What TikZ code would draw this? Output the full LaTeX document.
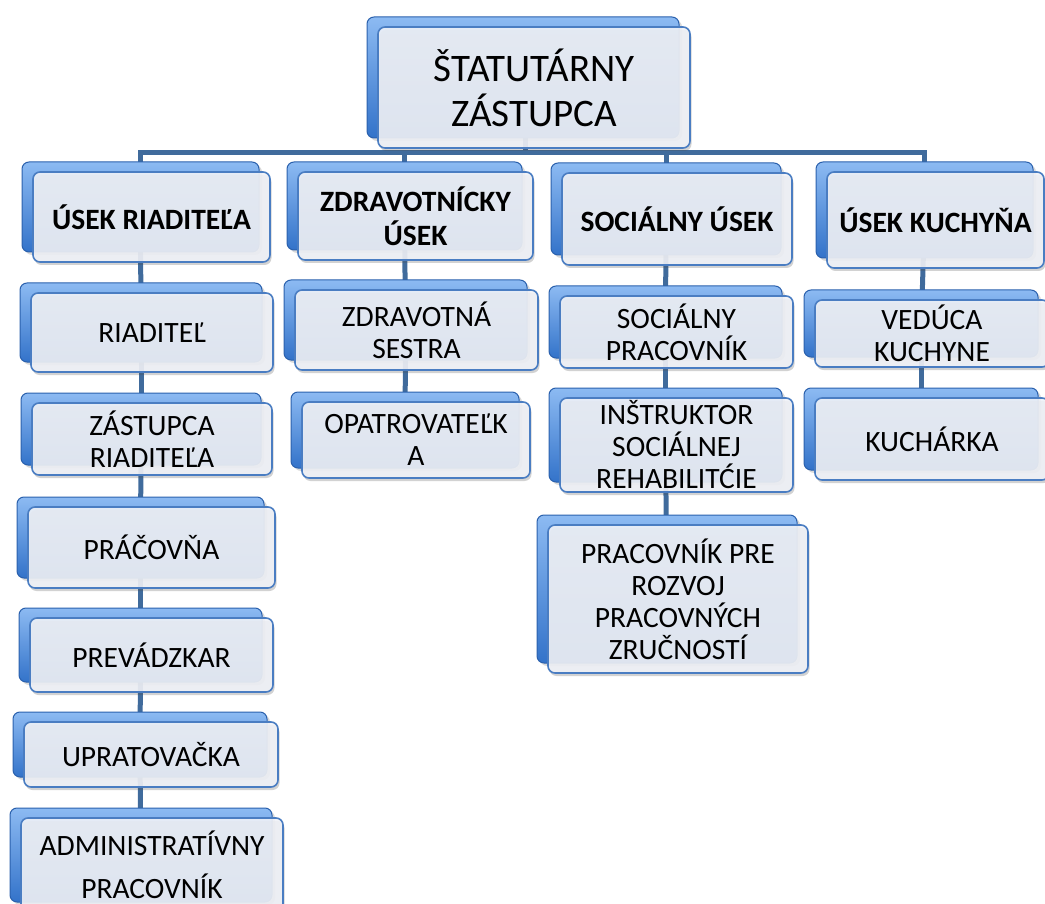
\documentclass[tikz,border=0pt]{standalone}
\usepackage{fontspec}
\setmainfont{Carlito}
\usepackage{tikz}
\usetikzlibrary{shadows}
\definecolor{linblue}{rgb}{0.25,0.42,0.61}
\definecolor{frontfill}{rgb}{0.94,0.95,0.97}
\definecolor{frontline}{rgb}{0.29,0.49,0.76}
\definecolor{backtop}{rgb}{0.55,0.73,0.95}
\definecolor{backbot}{rgb}{0.20,0.45,0.79}
\definecolor{backline}{rgb}{0.17,0.38,0.68}
\pgfdeclarelayer{bg}
\pgfsetlayers{bg,main}
\tikzstyle{orgbox}=[rectangle,rounded corners=7pt,draw=frontline,line width=1.6pt,fill=frontfill,fill opacity=0.9,text opacity=1,text=black,align=center,inner sep=0pt,font=\fontsize{29.5}{32}\selectfont,
  general shadow={shadow xshift=-8pt,shadow yshift=7pt,fill=black,opacity=0.15},
  general shadow={shadow xshift=-11pt,shadow yshift=10pt,top color=backtop,bottom color=backbot,draw=backline,line width=1pt,opacity=1},
  drop shadow={shadow xshift=1.5pt,shadow yshift=-3pt,fill=black!70,opacity=0.25}]
\tikzstyle{headbox}=[orgbox,font=\bfseries\fontsize{29.5}{34}\selectfont]
\tikzstyle{conn}=[draw=linblue,line width=5pt]

\begin{document}
\begin{tikzpicture}[line join=miter,x=1pt,y=-1pt]
\useasboundingbox (0,0) rectangle (1045,904);
\clip (0,0) rectangle (1045,904);
\node[orgbox,minimum width=312pt,minimum height=121pt,font=\fontsize{39}{45}\selectfont] (top) at (534,87.5) {ŠTATUTÁRNY\\ZÁSTUPCA};

\node[headbox,minimum width=237pt,minimum height=90pt] (uA) at (151.5,217) {ÚSEK RIADITEĽA};
\node[headbox,minimum width=235pt,minimum height=88pt] (uB) at (415.5,216) {ZDRAVOTNÍCKY\\ÚSEK};
\node[headbox,minimum width=230pt,minimum height=92pt] (uC) at (677,219) {SOCIÁLNY ÚSEK};
\node[headbox,minimum width=217pt,minimum height=96pt] (uD) at (935.5,220) {ÚSEK KUCHYŇA};

\node[orgbox,minimum width=242pt,minimum height=79pt] (riad) at (152,332.5) {RIADITEĽ};
\node[orgbox,minimum width=240pt,minimum height=72pt] (zast) at (152,439) {ZÁSTUPCA\\RIADITEĽA};
\node[orgbox,minimum width=247pt,minimum height=81pt] (prac) at (151.5,547.5) {PRÁČOVŇA};
\node[orgbox,minimum width=243pt,minimum height=74pt] (prev) at (151.5,655) {PREVÁDZKAR};
\node[orgbox,minimum width=254pt,minimum height=65pt] (uprat) at (151,754.5) {UPRATOVAČKA};
\node[orgbox,minimum width=262pt,minimum height=94pt,font=\fontsize{29.5}{43}\selectfont] (admin) at (152,865) {ADMINISTRATÍVNY\\PRACOVNÍK};

\node[orgbox,minimum width=243pt,minimum height=80pt] (zsestra) at (416.5,330) {ZDRAVOTNÁ\\SESTRA};
\node[orgbox,minimum width=228pt,minimum height=76pt] (opatr) at (416,440) {OPATROVATEĽK\\A};

\node[orgbox,minimum width=233pt,minimum height=72pt] (socprac) at (676.5,332) {SOCIÁLNY\\PRACOVNÍK};
\node[orgbox,minimum width=233pt,minimum height=94pt] (instr) at (676.5,445) {INŠTRUKTOR\\SOCIÁLNEJ\\REHABILITĆIE};
\node[orgbox,minimum width=260pt,minimum height=148pt] (rozvoj) at (678,599) {PRACOVNÍK PRE\\ROZVOJ\\PRACOVNÝCH\\ZRUČNOSTÍ};

\node[orgbox,minimum width=234pt,minimum height=67pt] (veduca) at (932,333.5) {VEDÚCA\\KUCHYNE};
\node[orgbox,minimum width=234pt,minimum height=82pt] (kuch) at (932,439) {KUCHÁRKA};

\begin{pgfonlayer}{bg}
\foreach \n in {uA,uB,uC,uD}
  \draw[conn] ([xshift=-9pt]top.center) -- ++(0,65) -| ([xshift=-11pt]\n.center);
\foreach \a/\b in {uA/riad,riad/zast,zast/prac,prac/prev,prev/uprat,uprat/admin,uB/zsestra,zsestra/opatr,uC/socprac,socprac/instr,instr/rozvoj,uD/veduca,veduca/kuch}
  \draw[conn] ([xshift=-11pt]\a.center) -- ([xshift=-11pt]\b.center);
\end{pgfonlayer}
\end{tikzpicture}
\end{document}
